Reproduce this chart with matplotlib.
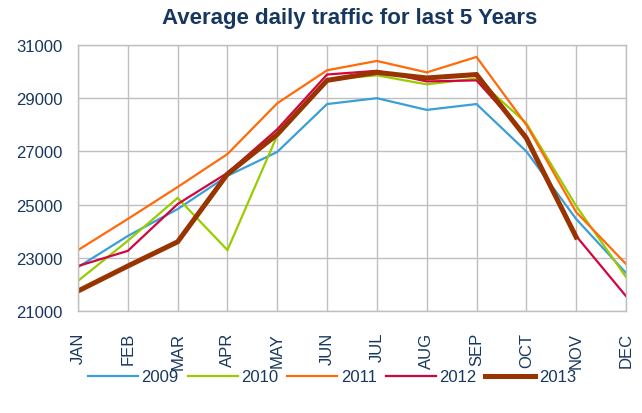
import matplotlib
matplotlib.use("Agg")
import matplotlib.pyplot as plt

plt.rcParams['font.family'] = ['Liberation Sans', 'DejaVu Sans']

# =========================
# DATA
# =========================
months = ["JAN", "FEB", "MAR", "APR", "MAY", "JUN",
          "JUL", "AUG", "SEP", "OCT", "NOV", "DEC"]

y2009 = [22650, 23820, 24830, 26080, 26980, 28780, 29000, 28560, 28780, 27000, 24460, 22430]
y2010 = [22130, 23640, 25250, 23290, 27600, 29700, 29860, 29520, 29740, 28060, 24950, 22280]
y2011 = [23290, 24460, 25660, 26900, 28810, 30050, 30400, 29970, 30550, 28000, 24720, 22770]
y2012 = [22690, 23260, 25020, 26190, 27830, 29890, 30030, 29630, 29670, 27580, 23820, 21560]
y2013 = [21750, 22690, 23600, 26150, 27640, 29670, 29970, 29760, 29890, 27500, 23780]

series = [
    ("2009", y2009, "#3A9FD6", 1.6),
    ("2010", y2010, "#99CC00", 1.6),
    ("2011", y2011, "#FF6A0A", 1.6),
    ("2012", y2012, "#D0063F", 1.6),
    ("2013", y2013, "#993300", 3.6),
]

TXT = "#17375E"

# =========================
# PLOT
# =========================
fig = plt.figure(figsize=(6.42, 4.14), dpi=100)
ax = fig.add_axes([0.1215, 0.2464, 0.8535, 0.6425])

for label, vals, color, lw in series:
    ax.plot(range(len(vals)), vals, color=color, lw=lw, label=label,
            solid_joinstyle='miter')

ax.set_ylim(21000, 31000)
ax.set_yticks(range(21000, 31001, 2000))
ax.set_xlim(0, 11)
ax.set_xticks(range(len(months)))
ax.set_xticklabels(months, rotation=90, ha='center', va='top')
ax.grid(True, color="#BFBFBF", lw=1)
ax.set_axisbelow(True)
for s in ax.spines.values():
    s.set_color("#BFBFBF")
    s.set_linewidth(1)

ax.tick_params(axis='x', length=0, pad=15, labelsize=12, labelcolor=TXT)
ax.tick_params(axis='y', length=0, pad=11, labelsize=12, labelcolor=TXT)

fig.text(0.545, 0.955, "Average daily traffic for last 5 Years",
         ha='center', va='center', fontsize=16, fontweight='bold', color=TXT)

leg = fig.legend(loc='center', bbox_to_anchor=(0.517, 0.087), ncol=5,
                 frameon=False, handlelength=3.0, handletextpad=0.2,
                 columnspacing=0.55, fontsize=12)
for t in leg.get_texts():
    t.set_color(TXT)

fig.savefig("out.png", dpi=100)
